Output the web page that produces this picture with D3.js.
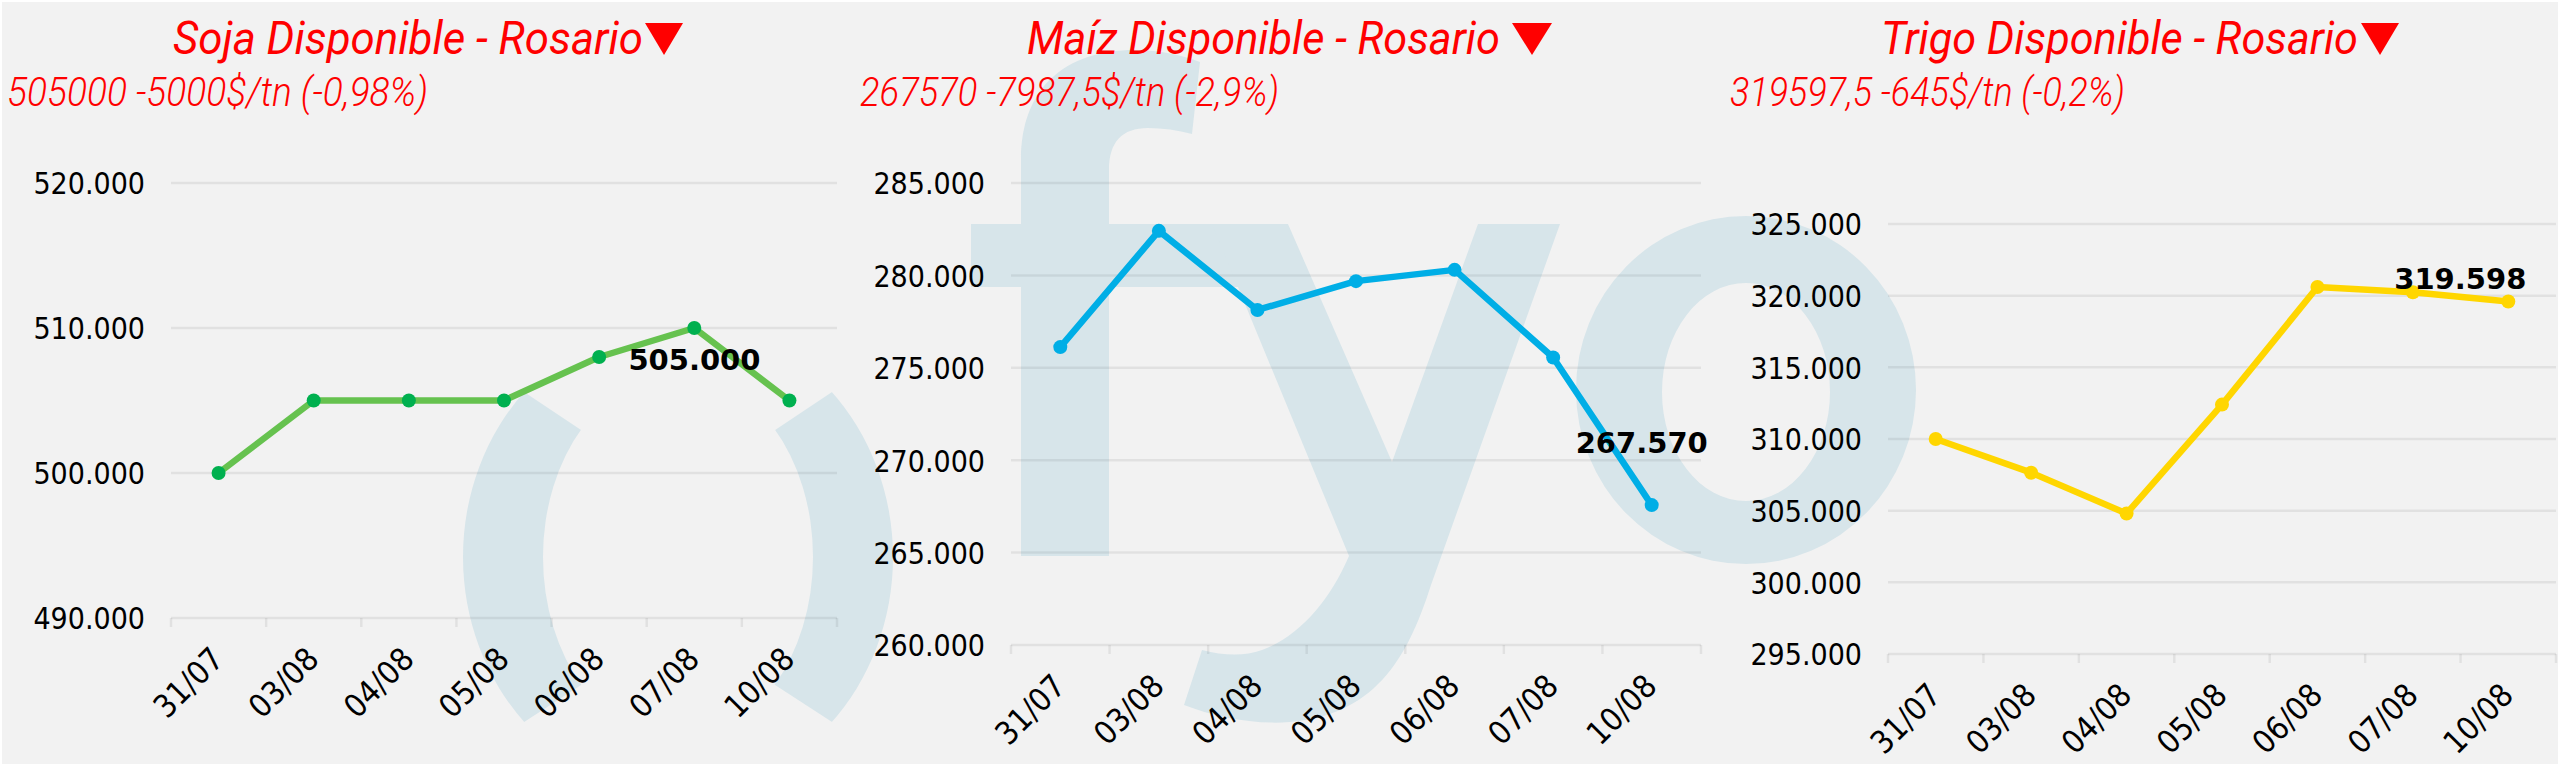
<!DOCTYPE html>
<html><head><meta charset="utf-8">
<script src="https://cdn.jsdelivr.net/npm/d3@7"></script>
<style>
html,body{margin:0;padding:0;background:#fff;}
svg{display:block;}
.ylab{font-family:"DejaVu Sans Condensed","DejaVu Sans",sans-serif;font-stretch:condensed;font-size:30px;fill:#000;}
.xlab{font-family:"DejaVu Sans Condensed","DejaVu Sans",sans-serif;font-stretch:condensed;font-size:32px;fill:#000;}
.dlab{font-family:"DejaVu Sans",sans-serif;font-weight:bold;font-size:29px;fill:#000;}
.ttl{font-family:Roboto,"Open Sans",sans-serif;font-style:italic;font-weight:400;font-size:47px;fill:#ff0000;}
.sub{font-family:Roboto,"Open Sans",sans-serif;font-style:italic;font-weight:300;font-size:41px;fill:#ff0000;}
</style></head><body>
<svg id="c" width="2560" height="768"></svg>
<script>
// ---- data ----
const categories = ["31/07","03/08","04/08","05/08","06/08","07/08","10/08"];
const sojaValues  = [500000,505000,505000,505000,508000,510000,505000];
const maizValues  = [276120,282410,278130,279690,280300,275557.5,267570];
const trigoValues = [310000,307650,304800,312400,320600,320242.5,319597.5];
const titles = ["Soja Disponible - Rosario","Maíz Disponible - Rosario","Trigo Disponible - Rosario"];
const subtitles = ["505000 -5000$/tn (-0,98%)","267570 -7987,5$/tn (-2,9%)","319597,5 -645$/tn (-0,2%)"];
const sojaTicks  = [490000,500000,510000,520000];
const maizTicks  = [260000,265000,270000,275000,280000,285000];
const trigoTicks = [295000,300000,305000,310000,315000,320000,325000];

// ---- layout / style ----
const panels = [
  {values:sojaValues, ticks:sojaTicks, title:titles[0], subtitle:subtitles[0],
   x0:171, x1:837, yTop:183, yBot:618,
   titleX:173, titleW:470, triX:645, triW:38, subX:7, subW:421,
   line:"#66c24f", marker:"#00b04f", ldx:-95, ldy:-41},
  {values:maizValues, ticks:maizTicks, title:titles[1], subtitle:subtitles[1],
   x0:1011, x1:1701, yTop:183, yBot:645,
   titleX:1027, titleW:473, triX:1512, triW:40, subX:860, subW:419,
   line:"#00aee6", marker:"#00aee6", ldx:-10, ldy:-63},
  {values:trigoValues, ticks:trigoTicks, title:titles[2], subtitle:subtitles[2],
   x0:1888, x1:2556, yTop:224, yBot:654,
   titleX:1881, titleW:477, triX:2361, triW:38, subX:1730, subW:395,
   line:"#ffd600", marker:"#ffd600", ldx:-48, ldy:-23}
];

const loc = d3.formatLocale({decimal:",", thousands:".", grouping:[3], currency:["$",""]});
const fmt = loc.format(",.0f");

const svg = d3.select("#c");
svg.append("rect").attr("x",2).attr("y",2).attr("width",2556).attr("height",762).attr("fill","#f2f2f2");

// ---- watermark "fyo" ----
const defs = svg.append("defs");
defs.append("clipPath").attr("id","ringclip").append("path")
  .attr("d","M661,506 L889,354 L960,354 L960,770 L889,759 L661,611 Z M695,506 L467,354 L396,354 L396,770 L467,759 L695,611 Z");
function ring(cx,cy,rx,ry,icy,irx,iry){
  return `M${cx-rx},${cy} a${rx},${ry} 0 1,0 ${2*rx},0 a${rx},${ry} 0 1,0 ${-2*rx},0 Z `+
         `M${cx-irx},${icy} a${irx},${iry} 0 1,0 ${2*irx},0 a${irx},${iry} 0 1,0 ${-2*irx},0 Z`;
}
const wm = svg.append("g").attr("fill","#d7e5ea");
wm.append("path").attr("fill-rule","evenodd").attr("clip-path","url(#ringclip)")
  .attr("d", ring(678,557,215,236,557,135,183));
wm.append("path").attr("d","M1021,556 L1021,160 C1021,88 1065,50 1135,50 C1160,50 1182,55 1200,62 L1192,134 C1178,130 1162,128 1148,128 C1122,128 1109,142 1109,170 L1109,556 Z");
wm.append("rect").attr("x",971).attr("y",224).attr("width",317).attr("height",63);
wm.append("path").attr("d","M1212,224 L1288,224 L1392,462 L1478,224 L1560,224 L1431,585 C1410,650 1380,715 1290,722 C1255,725 1215,717 1184,705 L1202,650 C1225,656 1245,656 1262,650 C1300,636 1330,600 1349,556 Z");
wm.append("path").attr("fill-rule","evenodd").attr("d", ring(1746,390,170,174,392,84,109));

// ---- panels ----
panels.forEach(p => {
  const g = svg.append("g");
  const x = d3.scaleBand().domain(categories).range([p.x0,p.x1]).padding(0);
  const y = d3.scaleLinear().domain(d3.extent(p.ticks)).range([p.yBot,p.yTop]);
  const cx = d => x(d) + x.bandwidth()/2;

  // gridlines
  g.selectAll("line.grid").data(p.ticks).join("line").attr("class","grid")
    .attr("x1",p.x0).attr("x2",p.x1).attr("y1",d=>y(d)).attr("y2",d=>y(d))
    .attr("stroke","#000").attr("stroke-opacity",0.065).attr("stroke-width",2.5);
  // category boundary ticks
  const bounds = d3.range(categories.length+1).map(i => p.x0 + i*x.step());
  g.selectAll("line.xt").data(bounds).join("line").attr("class","xt")
    .attr("x1",d=>d).attr("x2",d=>d).attr("y1",p.yBot).attr("y2",p.yBot+9)
    .attr("stroke","#000").attr("stroke-opacity",0.065).attr("stroke-width",2.5);

  // y axis labels
  const ya = g.append("g").attr("transform",`translate(${p.x0},0)`)
    .call(d3.axisLeft(y).tickValues(p.ticks).tickFormat(fmt).tickSize(0).tickPadding(26));
  ya.select(".domain").remove();
  ya.attr("font-size",null).attr("font-family",null);
  ya.selectAll("text").attr("class","ylab").attr("dy","0.36em").attr("fill",null);

  // x axis labels
  const xa = g.append("g").attr("transform",`translate(0,${p.yBot})`)
    .call(d3.axisBottom(x).tickSize(0));
  xa.select(".domain").remove();
  xa.attr("font-size",null).attr("font-family",null);
  xa.selectAll("text").attr("class","xlab").attr("fill",null)
    .attr("x",7).attr("y",43).attr("dy",null).attr("text-anchor","end")
    .attr("transform","rotate(-45,7,43)");

  // line + markers
  const pts = p.values.map((v,i)=>({c:categories[i], v}));
  g.append("path").datum(pts)
    .attr("d", d3.line().x(d=>cx(d.c)).y(d=>y(d.v)))
    .attr("fill","none").attr("stroke",p.line).attr("stroke-width",6.5)
    .attr("stroke-linejoin","round").attr("stroke-linecap","round");
  g.selectAll("circle").data(pts).join("circle")
    .attr("cx",d=>cx(d.c)).attr("cy",d=>y(d.v)).attr("r",7).attr("fill",p.marker);

  // data label for last point
  const last = pts[pts.length-1];
  g.append("text").attr("class","dlab").attr("text-anchor","middle").attr("dy","0.36em")
    .attr("x",cx(last.c)+p.ldx).attr("y",y(last.v)+p.ldy).text(fmt(last.v));

  // title and subtitle
  g.append("text").attr("class","ttl").attr("x",p.titleX).attr("y",54)
    .attr("textLength",p.titleW).attr("lengthAdjust","spacingAndGlyphs").text(p.title);
  g.append("path").attr("fill","#ff0000")
    .attr("d",`M${p.triX},23 L${p.triX+p.triW},23 L${p.triX+p.triW/2},55 Z`);
  g.append("text").attr("class","sub").attr("x",p.subX).attr("y",106)
    .attr("textLength",p.subW).attr("lengthAdjust","spacingAndGlyphs").text(p.subtitle);
});
</script>
</body></html>
